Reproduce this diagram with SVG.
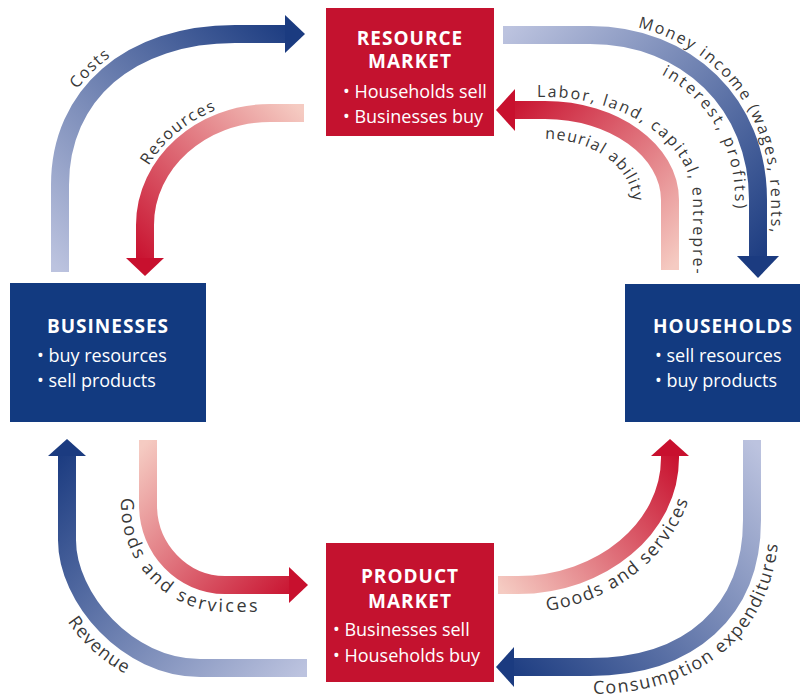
<svg xmlns="http://www.w3.org/2000/svg" width="810" height="700" viewBox="0 0 810 700">
  <style>
    .band { fill: none; stroke-width: 18; }
    .title { font-family: "Open Sans", "Liberation Sans", sans-serif; font-weight: 700; font-size: 19px; letter-spacing: 1px; fill: #ffffff; text-anchor: middle; }
    .item { font-family: "Open Sans", "Liberation Sans", sans-serif; font-size: 18px; fill: #ffffff; }
    .lbl { font-family: "Open Sans", "Liberation Sans", sans-serif; font-size: 16px; letter-spacing: 1.5px; fill: #383838; }
    .lbl2 { font-family: "Open Sans", "Liberation Sans", sans-serif; font-size: 18px; letter-spacing: 1.5px; fill: #383838; }
    .redbox { fill: #c4122f; }
    .bluebox { fill: #123a80; }
    .bhead { fill: #1b3b80; }
    .rhead { fill: #c8102e; }
  </style>
  <defs>
    <linearGradient id="gCosts" gradientUnits="userSpaceOnUse" x1="60" y1="272" x2="300" y2="34"><stop offset="0" stop-color="#bcc3df"/><stop offset="1" stop-color="#1b3b80"/></linearGradient>
    <linearGradient id="gRes" gradientUnits="userSpaceOnUse" x1="304" y1="113" x2="145" y2="270"><stop offset="0" stop-color="#f5cbc2"/><stop offset="1" stop-color="#c8102e"/></linearGradient>
    <linearGradient id="gMoney" gradientUnits="userSpaceOnUse" x1="503" y1="35" x2="758" y2="270"><stop offset="0" stop-color="#bcc3df"/><stop offset="1" stop-color="#1b3b80"/></linearGradient>
    <linearGradient id="gLabor" gradientUnits="userSpaceOnUse" x1="670" y1="270" x2="500" y2="110"><stop offset="0" stop-color="#f5cbc2"/><stop offset="1" stop-color="#c8102e"/></linearGradient>
    <linearGradient id="gGoodsL" gradientUnits="userSpaceOnUse" x1="148" y1="440" x2="305" y2="585"><stop offset="0" stop-color="#f5cbc2"/><stop offset="1" stop-color="#c8102e"/></linearGradient>
    <linearGradient id="gRev" gradientUnits="userSpaceOnUse" x1="307" y1="668" x2="67" y2="445"><stop offset="0" stop-color="#bcc3df"/><stop offset="1" stop-color="#1b3b80"/></linearGradient>
    <linearGradient id="gGoodsR" gradientUnits="userSpaceOnUse" x1="498" y1="585" x2="670" y2="445"><stop offset="0" stop-color="#f5cbc2"/><stop offset="1" stop-color="#c8102e"/></linearGradient>
    <linearGradient id="gCons" gradientUnits="userSpaceOnUse" x1="752" y1="440" x2="500" y2="667"><stop offset="0" stop-color="#bcc3df"/><stop offset="1" stop-color="#1b3b80"/></linearGradient>

    <path id="tpCosts" d="M47,185 C47,86.6 122.2,21 235,21"/>
    <path id="tpRes" d="M132,225 C132,156.25 194.1,100 270,100"/>
    <path id="tpMoney" d="M590,22 C695,22 771,96.8 771,200 L771,300"/>
    <path id="tpInterest" d="M590,58 C674.1,58 735,117.6 735,200 L735,260"/>
    <path id="tpLabor" d="M500,97 L545,97 C626.4,97 693,143.4 693,200 L693,290"/>
    <path id="tpNeurial" d="M530,139 L545,139 C590,139 633,165 633,205 L633,260"/>
    <path id="tpGoodsL" d="M121,470 L121,505 C121,563.85 167.8,612 225,612 L300,612"/>
    <path id="tpRev" d="M43,540 C43,623.6 113.65,692 200,692"/>
    <path id="tpGoodsR" d="M490,613 L518,613 C615.35,613 695,543.25 695,458 L695,440"/>
    <path id="tpCons" d="M540,694 L590,694 C707.2,694 779,627.9 779,520 L779,470"/>
  </defs>

  <g id="connectors">
    <g id="costs">
      <path class="band" stroke="url(#gCosts)" d="M60,272 L60,185 C60,94.4 130,34 235,34 L288,34"/>
      <polygon class="bhead" points="285,15 305,34 285,53"/>
    </g>
    <g id="resources">
      <path class="band" stroke="url(#gRes)" d="M304,113 L270,113 C201.25,113 145,163.4 145,225 L145,260"/>
      <polygon class="rhead" points="126,258 164,258 145,276"/>
    </g>
    <g id="money-income">
      <path class="band" stroke="url(#gMoney)" d="M503,35 L590,35 C687.4,35 758,104.3 758,200 L758,258"/>
      <polygon class="bhead" points="737,256 779,256 758,278"/>
    </g>
    <g id="labor">
      <path class="band" stroke="url(#gLabor)" d="M670,270 L670,200 C670,150.5 613.75,110 545,110 L512,110"/>
      <polygon class="rhead" points="515,89 515,131 496,110"/>
    </g>
    <g id="goods-left">
      <path class="band" stroke="url(#gGoodsL)" d="M148,440 L148,505 C148,549 182.65,585 225,585 L291,585"/>
      <polygon class="rhead" points="289,567 289,603 308,585"/>
    </g>
    <g id="revenue">
      <path class="band" stroke="url(#gRev)" d="M307,668 L200,668 C126.85,668 67,597.6 67,540 L67,453"/>
      <polygon class="bhead" points="48,456 86,456 67,439"/>
    </g>
    <g id="goods-right">
      <path class="band" stroke="url(#gGoodsR)" d="M498,585 L518,585 C601.6,585 670,527.85 670,458 L670,453"/>
      <polygon class="rhead" points="651,456 689,456 670,439"/>
    </g>
    <g id="consumption">
      <path class="band" stroke="url(#gCons)" d="M752,440 L752,520 C752,611.1 690.4,667 590,667 L511,667"/>
      <polygon class="bhead" points="514,647 514,687 496,667"/>
    </g>

    <text class="lbl"><textPath href="#tpCosts" startOffset="45%" text-anchor="middle">Costs</textPath></text>
    <text class="lbl"><textPath href="#tpRes" startOffset="52%" text-anchor="middle">Resources</textPath></text>
    <text class="lbl" style="letter-spacing:2px"><textPath href="#tpMoney" startOffset="48">Money income (wages, rents,</textPath></text>
    <text class="lbl" style="letter-spacing:2.5px"><textPath href="#tpInterest" startOffset="74">interest, profits)</textPath></text>
    <text class="lbl" style="letter-spacing:2px"><textPath href="#tpLabor" startOffset="37">Labor, land, capital, entrepre-</textPath></text>
    <text class="lbl" style="letter-spacing:1.2px"><textPath href="#tpNeurial" startOffset="15">neurial ability</textPath></text>
    <text class="lbl2" style="letter-spacing:2.5px"><textPath href="#tpGoodsL" startOffset="28">Goods and services</textPath></text>
    <text class="lbl2" style="letter-spacing:1px"><textPath href="#tpRev" startOffset="52%" text-anchor="middle">Revenue</textPath></text>
    <text class="lbl2"><textPath href="#tpGoodsR" startOffset="57">Goods and services</textPath></text>
    <text class="lbl2"><textPath href="#tpCons" startOffset="53">Consumption expenditures</textPath></text>
  </g>

  <g id="resource-market">
    <rect class="redbox" x="326" y="8" width="168" height="128"/>
    <text class="title" x="410" y="45">RESOURCE</text>
    <text class="title" x="410" y="68">MARKET</text>
    <text class="item" x="343" y="98">• Households sell</text>
    <text class="item" x="343" y="123">• Businesses buy</text>
  </g>

  <g id="product-market">
    <rect class="redbox" x="326" y="543" width="168" height="139"/>
    <text class="title" x="410" y="583">PRODUCT</text>
    <text class="title" x="410" y="608">MARKET</text>
    <text class="item" x="333" y="636">• Businesses sell</text>
    <text class="item" x="333" y="662">• Households buy</text>
  </g>

  <g id="businesses">
    <rect class="bluebox" x="10" y="283" width="196" height="139"/>
    <text class="title" x="108" y="333">BUSINESSES</text>
    <text class="item" x="37" y="362">• buy resources</text>
    <text class="item" x="37" y="387">• sell products</text>
  </g>

  <g id="households">
    <rect class="bluebox" x="625" y="284" width="175" height="138"/>
    <text class="title" x="723" y="333">HOUSEHOLDS</text>
    <text class="item" x="655" y="362">• sell resources</text>
    <text class="item" x="655" y="387">• buy products</text>
  </g>
</svg>
